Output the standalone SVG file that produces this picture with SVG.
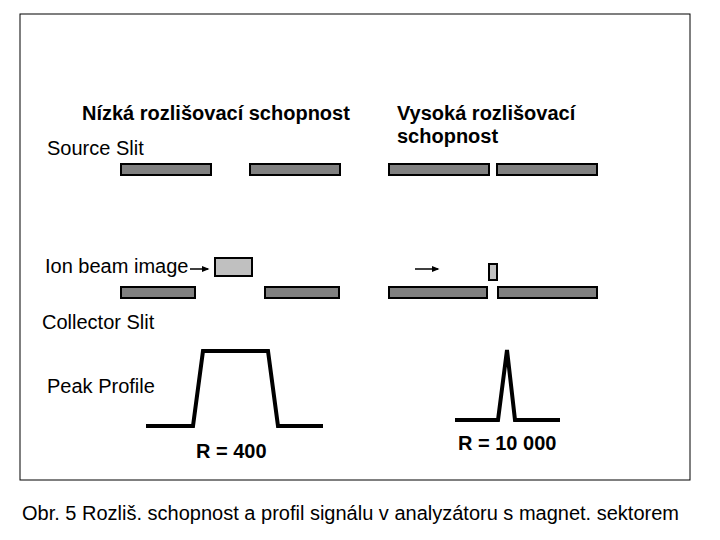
<svg xmlns="http://www.w3.org/2000/svg" width="720" height="540" viewBox="0 0 720 540">
<style>
text{font-family:"Liberation Sans",Arial,sans-serif;font-size:20px;fill:#000}
.b{font-weight:bold}
.slit{fill:#808080;stroke:#000;stroke-width:2}
.img{fill:#c0c0c0;stroke:#000;stroke-width:2}
.prof{fill:none;stroke:#000;stroke-width:4}
</style>
<defs><marker id="ah" markerWidth="5" markerHeight="5" refX="4" refY="2.5" orient="auto"><path d="M0,0.5L5,2.5L0,4.5z" fill="#000"/></marker></defs>
<rect x="0" y="0" width="720" height="540" fill="#fff"/>
<rect x="20" y="14" width="670" height="466" fill="none" stroke="#000" stroke-width="1"/>
<text class="b" x="82" y="120">Nízká rozlišovací schopnost</text>
<text class="b" x="397" y="120">Vysoká rozlišovací</text>
<text class="b" x="397" y="143">schopnost</text>
<text x="47" y="155">Source Slit</text>
<text x="45" y="273">Ion beam image</text>
<text x="42" y="329">Collector Slit</text>
<text x="47" y="393">Peak Profile</text>
<text class="b" x="196" y="458">R = 400</text>
<text class="b" x="458" y="450">R = 10 000</text>
<text x="22" y="520">Obr. 5 Rozliš. schopnost a profil signálu v analyzátoru s magnet. sektorem</text>
<g id="source-slit">
<rect class="slit" x="121" y="164" width="90" height="11"/>
<rect class="slit" x="250" y="164" width="90" height="11"/>
<rect class="slit" x="389" y="164" width="100" height="11"/>
<rect class="slit" x="497" y="164" width="100" height="11"/>
</g>
<g id="collector-slit">
<rect class="slit" x="121" y="287" width="74" height="11"/>
<rect class="slit" x="265" y="287" width="74" height="11"/>
<rect class="slit" x="389" y="287" width="98" height="11"/>
<rect class="slit" x="498" y="287" width="99" height="11"/>
</g>
<g id="ion-images">
<rect class="img" x="215" y="258" width="37" height="18"/>
<rect class="img" x="489" y="264" width="8" height="16"/>
</g>
<g id="connectors">
<line x1="190" y1="269" x2="208" y2="269" stroke="#000" stroke-width="1.5" marker-end="url(#ah)"/>
<line x1="415" y1="269" x2="438" y2="269" stroke="#000" stroke-width="1.5" marker-end="url(#ah)"/>
</g>
<g id="profiles">
<polyline class="prof" points="146,426 193,426 203,351 268,351 278,426 323,426"/>
<polyline class="prof" points="455,420 498,420 507,350 515,420 560,420"/>
</g>
</svg>
